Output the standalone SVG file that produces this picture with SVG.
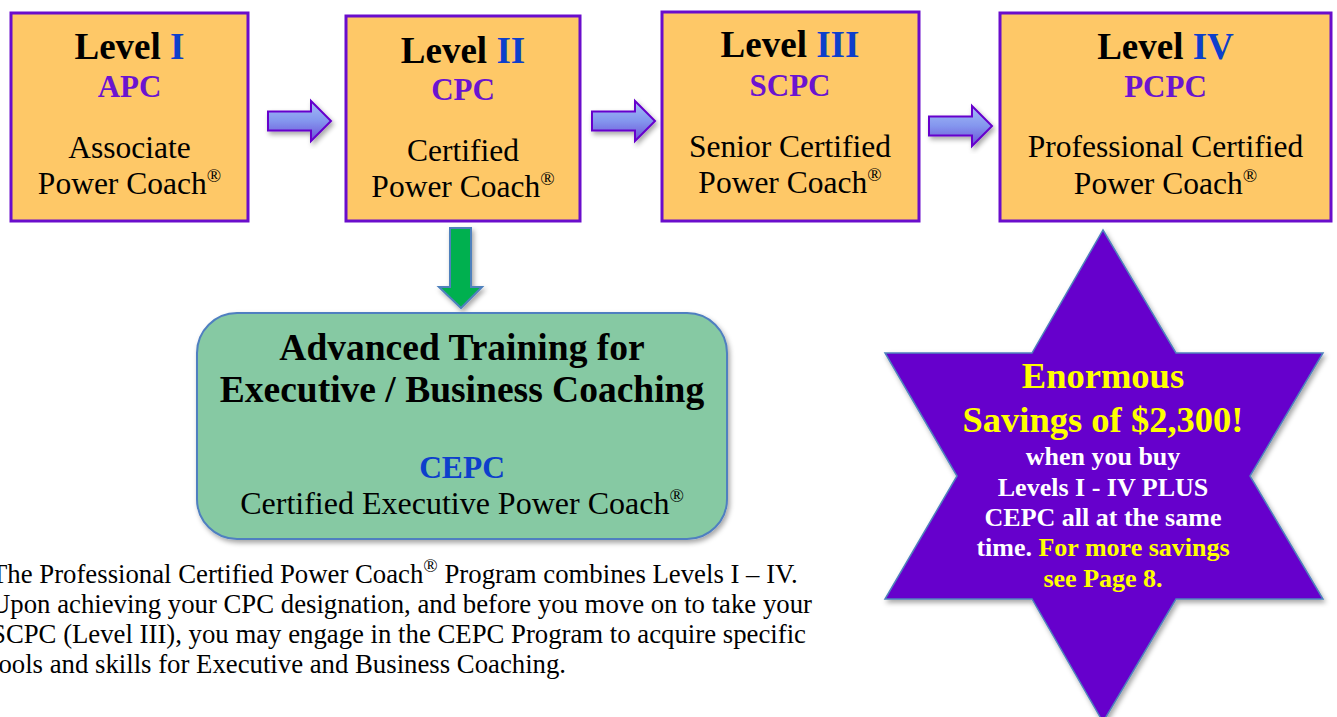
<svg xmlns="http://www.w3.org/2000/svg" width="1337" height="717" viewBox="0 0 1337 717">
<defs>
<linearGradient id="gArrow" x1="0" y1="0" x2="0" y2="1">
<stop offset="0" stop-color="#a3bdf7"/>
<stop offset="0.5" stop-color="#8496ee"/>
<stop offset="1" stop-color="#6a4fd6"/>
</linearGradient>
<filter id="shadow" x="-20%" y="-20%" width="140%" height="140%">
<feDropShadow dx="2" dy="3" stdDeviation="2.5" flood-color="#000" flood-opacity="0.35"/>
</filter>
<path id="rArrow" d="M0,-9.5 H43 V-20 L63,0 L43,20 V9.5 H0 Z"/>
</defs>
<style>
.box{fill:#fec867;stroke:#6a0dcc;stroke-width:3}
.t{font-family:"Liberation Serif","Times New Roman",serif;text-anchor:middle}
.lvl{font-size:37px;font-weight:bold;fill:#000}
.roman{fill:#0d3fcc}
.abbr{font-size:31px;font-weight:bold;fill:#6b14d0}
.name{font-size:31.5px;fill:#000}
.sup{font-size:19px}
.arrow{fill:url(#gArrow);stroke:#6600cc;stroke-width:2;filter:url(#shadow)}
.star1{font-size:36.5px;font-weight:bold;fill:#ffff00}
.star2{font-size:26px;font-weight:bold;fill:#ffffff}
.yel{fill:#ffff00}
.para{font-family:"Liberation Serif","Times New Roman",serif;font-size:26.75px;fill:#000}
</style>

<g id="connectors">
<use href="#rArrow" class="arrow" transform="translate(268,121)"/>
<use href="#rArrow" class="arrow" transform="translate(592,121)"/>
<use href="#rArrow" class="arrow" transform="translate(929,126)"/>
<path d="M450,228 H471 V287 H482 L461,308 L439,287 H450 Z" fill="#00b050" stroke="#4f81bd" stroke-width="2" filter="url(#shadow)"/>
</g>

<g id="level1">
<rect class="box" x="11" y="13" width="237" height="208"/>
<text class="t lvl" x="129.5" y="59">Level <tspan class="roman">I</tspan></text>
<text class="t abbr" x="129.5" y="97">APC</text>
<text class="t name" x="129.5" y="158">Associate</text>
<text class="t name" x="129.5" y="194">Power Coach<tspan class="sup" dy="-12">®</tspan></text>
</g>

<g id="level2">
<rect class="box" x="346" y="16" width="234" height="205"/>
<text class="t lvl" x="463" y="63">Level <tspan class="roman">II</tspan></text>
<text class="t abbr" x="463" y="100">CPC</text>
<text class="t name" x="463" y="161">Certified</text>
<text class="t name" x="463" y="197">Power Coach<tspan class="sup" dy="-12">®</tspan></text>
</g>

<g id="level3">
<rect class="box" x="662" y="12" width="257" height="209"/>
<text class="t lvl" x="790" y="57">Level <tspan class="roman">III</tspan></text>
<text class="t abbr" x="790" y="96">SCPC</text>
<text class="t name" x="790" y="157">Senior Certified</text>
<text class="t name" x="790" y="193">Power Coach<tspan class="sup" dy="-12">®</tspan></text>
</g>

<g id="level4">
<rect class="box" x="1000" y="13" width="331" height="208"/>
<text class="t lvl" x="1165.5" y="59">Level <tspan class="roman">IV</tspan></text>
<text class="t abbr" x="1165.5" y="97">PCPC</text>
<text class="t name" x="1165.5" y="157">Professional Certified</text>
<text class="t name" x="1165.5" y="194">Power Coach<tspan class="sup" dy="-12">®</tspan></text>
</g>

<g id="cepc">
<rect x="197" y="313" width="530" height="226" rx="40" ry="40" fill="#86c9a3" stroke="#4f7fc0" stroke-width="2" filter="url(#shadow)"/>
<text class="t" x="462" y="360" font-size="37.5" font-weight="bold">Advanced Training for</text>
<text class="t" x="462" y="402" font-size="37.5" font-weight="bold">Executive / Business Coaching</text>
<text class="t" x="462" y="478" font-size="31.5" font-weight="bold" fill="#0d3fcc">CEPC</text>
<text class="t" x="462" y="514" font-size="32">Certified Executive Power Coach<tspan class="sup" dy="-12">®</tspan></text>
</g>

<g id="savings">
<polygon points="1103,230 1176,353 1323,353 1250,476 1323,599 1176,599 1103,722 1032,599 885,599 957,476 885,353 1032,353" fill="#6600cc" stroke="#4f81bd" stroke-width="1.5" filter="url(#shadow)"/>
<text class="t star1" x="1103" y="388">Enormous</text>
<text class="t star1" x="1103" y="432">Savings of $2,300!</text>
<text class="t star2" x="1103" y="465">when you buy</text>
<text class="t star2" x="1103" y="496">Levels I - IV PLUS</text>
<text class="t star2" x="1103" y="526">CEPC all at the same</text>
<text class="t star2" x="1103" y="556">time. <tspan class="yel">For more savings</tspan></text>
<text class="t star2 yel" x="1103" y="587">see Page 8.</text>
</g>

<g id="description">
<text class="para" x="-9" y="583">The Professional Certified Power Coach<tspan class="sup" dy="-11">®</tspan><tspan dy="11"> Program combines Levels I – IV.</tspan></text>
<text class="para" x="-9" y="613">Upon achieving your CPC designation, and before you move on to take your</text>
<text class="para" x="-9" y="643">SCPC (Level III), you may engage in the CEPC Program to acquire specific</text>
<text class="para" x="-9" y="673">tools and skills for Executive and Business Coaching.</text>
</g>
</svg>
